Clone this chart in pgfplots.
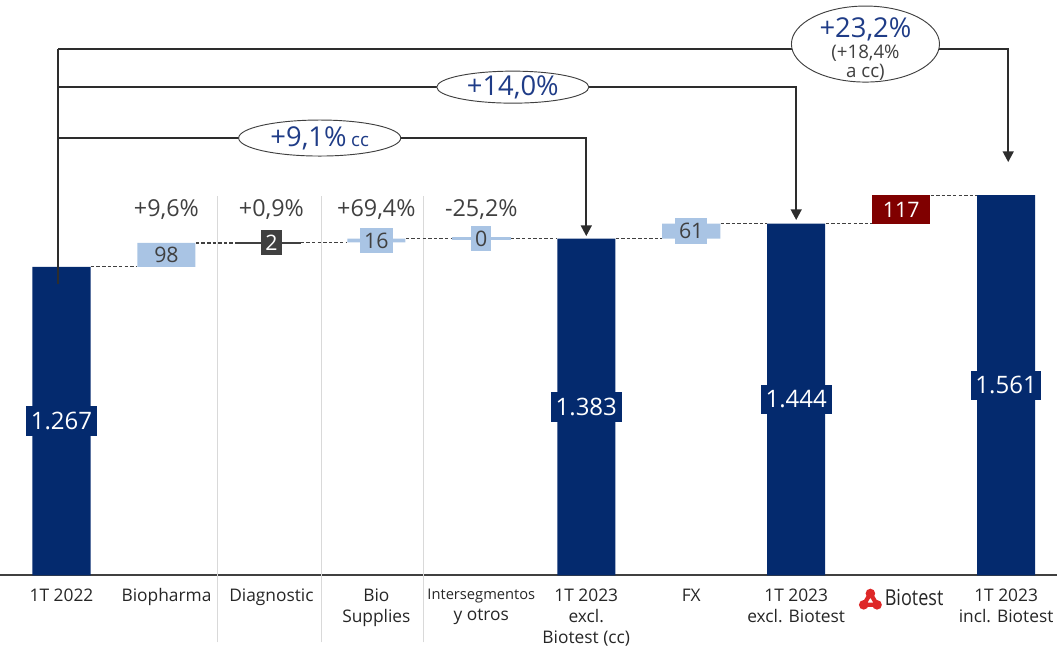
\documentclass[border=0pt]{standalone}
\usepackage{fontspec}
\setmainfont{Open Sans}
\usepackage{graphicx}
\usepackage{pgfplots}
\pgfplotsset{compat=1.18}
\usetikzlibrary{arrows.meta,shapes.geometric}

\definecolor{navy}{RGB}{4,42,110}
\definecolor{lblue}{RGB}{169,196,228}
\definecolor{dred}{RGB}{128,0,0}
\definecolor{dgray}{RGB}{64,64,64}
\definecolor{bgray}{RGB}{45,45,45}
\definecolor{txtgray}{RGB}{38,38,38}
\definecolor{pctblue}{RGB}{31,60,135}
\definecolor{sepgray}{RGB}{217,217,217}
\definecolor{logored}{RGB}{222,40,40}

\tikzset{
  lbl/.style={inner xsep=3pt, inner ysep=0pt, minimum height=19pt,
    font=\fontsize{16pt}{16pt}\selectfont},
  tot/.style={fill=navy, text=white, inner xsep=3.5pt, inner ysep=0pt,
    minimum height=22pt, font=\fontsize{18pt}{18pt}\selectfont},
  pct/.style={text=dgray, font=\fontsize{17.5pt}{17.5pt}\selectfont},
  brk/.style={bgray, line width=1.6pt},
  arr/.style={brk, -{Triangle[length=8pt,width=8pt]}},
  oval/.style={ellipse, draw=dgray, line width=0.7pt, fill=white, inner sep=0pt},
  con/.style={dgray, line width=0.8pt, dash pattern=on 2.6pt off 1.6pt},
}

\newsavebox{\logobox}

\begin{document}
\sbox{\logobox}{\tikz[baseline=-3.5pt]{%
  \draw[logored, line width=3.2pt, line join=round] (0,5.5pt)--(-5pt,-3pt)--(5pt,-3pt)--cycle;
  \fill[logored] (0,5.5pt) circle (3.6pt) (-5pt,-3pt) circle (3.6pt) (5pt,-3pt) circle (3.6pt);}}
\begin{tikzpicture}
\begin{axis}[
  scale only axis,
  width=792.75pt, height=486.75pt,
  xmin=-0.591, xmax=9.485, ymin=-304, ymax=2363,
  axis x line=middle, axis y line=none,
  axis line style={dgray, line width=1.4pt, -},
  ybar stacked, reverse stacked plots=false, bar width=43.5pt,
  xtick={0,...,9}, ytick=\empty,
  xticklabels={1T 2022, Biopharma, Diagnostic, Bio\\Supplies,
    {{\fontsize{11pt}{13pt}\selectfont Intersegmentos}\\y otros},
    1T 2023\\excl.\\Biotest (cc), FX, 1T 2023\\excl. Biotest,
    {\usebox{\logobox}\,\scalebox{0.82}[1]{\fontsize{16.5pt}{16.5pt}\selectfont Biotest}},
    1T 2023\\incl. Biotest},
  major tick length=0pt,
  x tick label style={align=center, font=\fontsize{13pt}{15.75pt}\selectfont,
    text=txtgray, anchor=north, yshift=-6.5pt},
  clip=false,
]
% separators
\draw[sepgray, line width=0.8pt] (axis cs:1.49,-275) -- (axis cs:1.49,1557);
\draw[sepgray, line width=0.8pt] (axis cs:2.48,-275) -- (axis cs:2.48,1557);
\draw[sepgray, line width=0.8pt] (axis cs:3.45,-275) -- (axis cs:3.45,1557);

% invisible base
\addplot[draw=none, fill=none] coordinates
  {(0,0) (1,1267) (2,1365) (3,1367) (4,1383) (5,0) (6,1383) (7,0) (8,1444) (9,0)};
% totals
\addplot[draw=none, fill=navy] coordinates
  {(0,1267) (1,0) (2,0) (3,0) (4,0) (5,1383) (6,0) (7,1444) (8,0) (9,1561)};
% segment increments
\addplot[draw=none, fill=lblue] coordinates
  {(0,0) (1,98) (2,0) (3,16) (4,0) (5,0) (6,61) (7,0) (8,0) (9,0)};
\addplot[draw=none, fill=dgray] coordinates
  {(0,0) (1,0) (2,2) (3,0) (4,0) (5,0) (6,0) (7,0) (8,0) (9,0)};
\addplot[draw=none, fill=dred] coordinates
  {(0,0) (1,0) (2,0) (3,0) (4,0) (5,0) (6,0) (7,0) (8,117) (9,0)};

% connectors
\draw[con] (axis cs:0.28,1267) -- (axis cs:0.72,1267);
\draw[con] (axis cs:1.28,1365) -- (axis cs:1.66,1365);
\draw[con] (axis cs:2.28,1367) -- (axis cs:2.72,1367);
\draw[con] (axis cs:3.28,1383) -- (axis cs:3.72,1383);
\draw[con] (axis cs:4.28,1383) -- (axis cs:4.72,1383);
\draw[con] (axis cs:5.28,1383) -- (axis cs:5.72,1383);
\draw[con] (axis cs:6.28,1444) -- (axis cs:6.72,1444);
\draw[con] (axis cs:7.28,1444) -- (axis cs:7.72,1444);
\draw[con] (axis cs:8.28,1561) -- (axis cs:8.72,1561);
\draw[dgray, line width=1.2pt] (axis cs:1.66,1366) -- (axis cs:2.28,1366);
\draw[lblue, line width=2pt] (axis cs:3.72,1383) -- (axis cs:4.28,1383);

% value labels
\node[lbl, fill=lblue, text=dgray, minimum height=18pt] at (axis cs:1,1316) {98};
\node[lbl, fill=dgray, text=white] at (axis cs:2,1366) {2};
\node[lbl, fill=lblue, text=dgray] at (axis cs:3,1375) {16};
\node[lbl, fill=lblue, text=dgray] at (axis cs:4,1383) {0};
\node[lbl, fill=lblue, text=dgray] at (axis cs:6,1413.5) {61};
\node[lbl, fill=dred, text=white, minimum height=20pt] at (axis cs:8,1502.5) {117};
\node[tot] at (axis cs:0,633.5) {1.267};
\node[tot] at (axis cs:5,691.5) {1.383};
\node[tot] at (axis cs:7,722) {1.444};
\node[tot] at (axis cs:9,780.5) {1.561};

% growth rates
\node[pct] at (axis cs:1,1504) {+9,6\%};
\node[pct] at (axis cs:2,1504) {+0,9\%};
\node[pct] at (axis cs:3,1504) {+69,4\%};
\node[pct] at (axis cs:4,1504) {-25,2\%};

% brackets
\draw[brk] (axis cs:-0.03,1196) -- (axis cs:-0.03,2161);
\draw[arr] (axis cs:-0.03,1796) -- (axis cs:5,1796) -- (axis cs:5,1393);
\draw[arr] (axis cs:-0.03,2005) -- (axis cs:7,2005) -- (axis cs:7,1459);
\draw[arr] (axis cs:-0.03,2161) -- (axis cs:9.02,2161) -- (axis cs:9.02,1697);

\node[oval, minimum width=121.5pt, minimum height=27pt] at (axis cs:2.46,1796) {};
\node[text=pctblue] at (axis cs:2.46,1796)
  {\fontsize{20.5pt}{20.5pt}\selectfont +9,1\%\,\fontsize{14pt}{14pt}\selectfont cc};
\node[oval, minimum width=114pt, minimum height=24pt] at (axis cs:4.30,2005) {};
\node[text=pctblue, font=\fontsize{20.5pt}{20.5pt}\selectfont] at (axis cs:4.30,2005) {+14,0\%};
\node[oval, minimum width=111pt, minimum height=57pt] at (axis cs:7.66,2182) {};
\node[text=pctblue, font=\fontsize{20.5pt}{20.5pt}\selectfont] at (axis cs:7.66,2244) {+23,2\%};
\node[text=dgray, font=\fontsize{14pt}{14pt}\selectfont] at (axis cs:7.66,2145) {(+18,4\%};
\node[text=dgray, font=\fontsize{14pt}{14pt}\selectfont] at (axis cs:7.66,2067) {a cc)};

\coordinate (bl) at (axis cs:-0.553,-294);
\coordinate (tr) at (axis cs:9.485,2363);
\end{axis}
\pgfresetboundingbox
\path[use as bounding box] (bl) rectangle (tr);
\end{tikzpicture}
\end{document}
